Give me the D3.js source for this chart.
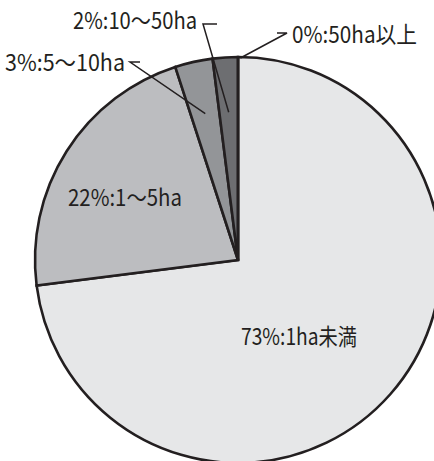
<!DOCTYPE html>
<html>
<head>
<meta charset="utf-8">
<script src="https://cdn.jsdelivr.net/npm/d3@7"></script>
<style>
  html, body { margin: 0; padding: 0; background: #fff; }
  svg { display: block; }
  text { font-family: "Noto Sans CJK JP", "Noto Sans", sans-serif; fill: #231f20; }
</style>
</head>
<body>
<div id="chart"></div>
<script>
// data
const categories = ['1ha未満', '1～5ha', '5～10ha', '10～50ha', '50ha以上'];
const shares = [73, 22, 3, 2, 0];

// look
const colors = ['#e6e7e8', '#bcbdc0', '#939598', '#6d6e71', '#58595b'];
const ink = '#231f20';

// label placement: x/y = text start + baseline, w = text length,
// elbow = where the leader meets the text, r = radius the leader points to
const labelLayout = [
  {x: 241, y: 345, w: 116},
  {x: 68, y: 206, w: 114},
  {x: 5, y: 71, w: 120, elbow: [[130, 62], [140, 62]], r: 150},
  {x: 73, y: 29, w: 124, elbow: [[203, 24], [217, 24]], r: 148},
  {x: 292, y: 43, w: 125, elbow: [[287, 33], [277, 33]], r: 202, nudge: 0.012}
];

const width = 434,
      height = 461,
      cx = 238,
      cy = 260,
      radius = 203;

const svg = d3.select('#chart').append('svg')
  .attr('width', width)
  .attr('height', height);

const pie = d3.pie().sort(null).value(d => d.share);
const data = categories.map((c, i) => ({cat: c, share: shares[i]}));
const arcs = pie(data);

const arc = d3.arc().innerRadius(0).outerRadius(radius);

const g = svg.append('g').attr('transform', `translate(${cx},${cy})`);

g.selectAll('path.slice')
  .data(arcs)
  .enter().append('path')
  .attr('class', 'slice')
  .attr('d', arc)
  .attr('fill', (d, i) => colors[i])
  .attr('stroke', ink)
  .attr('stroke-width', 2.6)
  .attr('stroke-linejoin', 'miter');

// leader lines
arcs.forEach((d, i) => {
  const lay = labelLayout[i];
  if (!lay.elbow) return;
  const a = (d.startAngle + d.endAngle) / 2 + (lay.nudge || 0);
  const px = cx + Math.sin(a) * lay.r,
        py = cy - Math.cos(a) * lay.r;
  const pts = [lay.elbow[1], lay.elbow[0], [px, py]];
  svg.append('path')
    .attr('d', d3.line()(pts))
    .attr('fill', 'none')
    .attr('stroke', ink)
    .attr('stroke-width', 1.5);
});

// labels
svg.selectAll('text.lbl')
  .data(arcs)
  .enter().append('text')
  .attr('class', 'lbl')
  .attr('x', (d, i) => labelLayout[i].x)
  .attr('y', (d, i) => labelLayout[i].y)
  .attr('font-size', 23)
  .attr('textLength', (d, i) => labelLayout[i].w)
  .attr('lengthAdjust', 'spacingAndGlyphs')
  .text(d => `${d.data.share}%:${d.data.cat}`);
</script>
</body>
</html>
